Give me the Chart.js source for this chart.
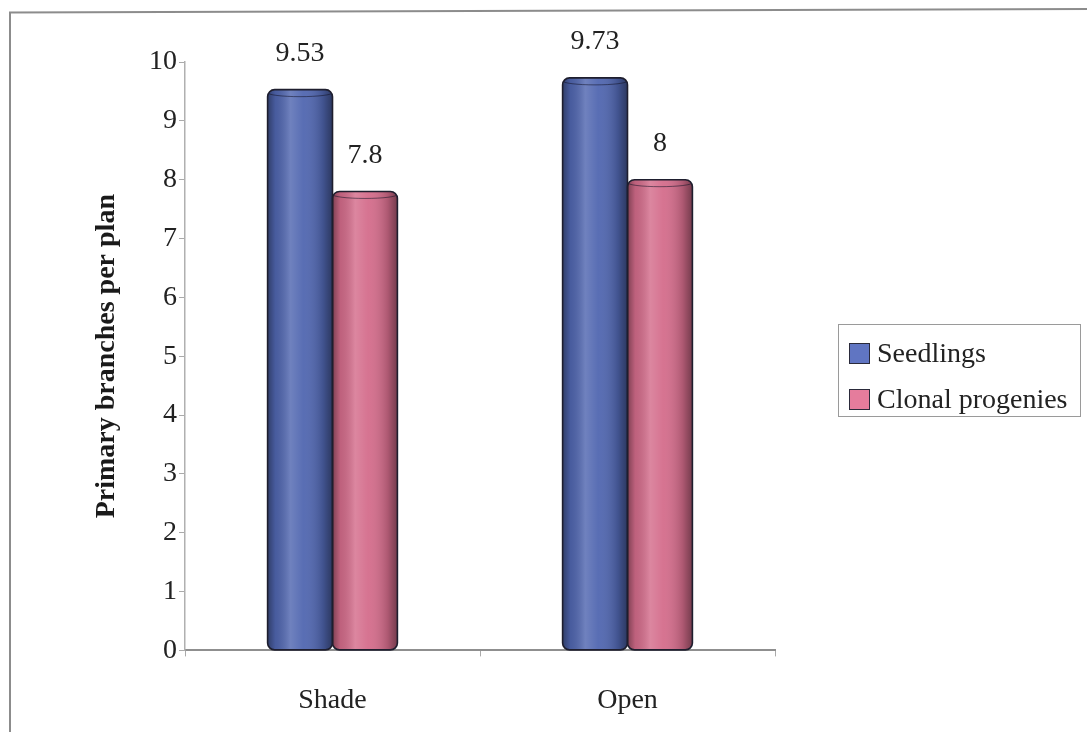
<!DOCTYPE html>
<html>
<head>
<meta charset="utf-8">
<script src="https://cdn.jsdelivr.net/npm/chart.js@4/dist/chart.umd.min.js"></script>
<style>
  html, body { margin: 0; padding: 0; background: #ffffff; }
  #wrap { position: relative; width: 1087px; height: 732px; }
  #legend {
    position: absolute; left: 838px; top: 324px; width: 243px; height: 93px;
    border: 1px solid #9a9a9a; box-sizing: border-box;
    font-family: "Liberation Serif", "Times New Roman", serif; font-size: 28px; color: #222;
  }
  .row { position: absolute; left: 10px; height: 32px; line-height: 32px; white-space: nowrap; }
  .sw { display: inline-block; width: 19px; height: 19px; border: 1.5px solid #2a2a3a; vertical-align: middle; margin-right: 7px; position: relative; top: -2px; }
</style>
</head>
<body>
<div id="wrap">
  <canvas id="c" width="1087" height="732"></canvas>
  <div id="legend"></div>
</div>
<script>
// ---- data ----
const categories = ['Shade', 'Open'];
const seedlings = [9.53, 9.73];
const clonalProgenies = [7.8, 8];
const seriesNames = ['Seedlings', 'Clonal progenies'];
const yAxisTitle = 'Primary branches per plan';
const yMin = 0, yMax = 10, yStep = 1;

const FONT = '"Liberation Serif", "Times New Roman", serif';
const barColors = ['#5066b0', '#d46c8b'];
const swatchColors = ['#6075c2', '#e57c9c'];

// frame of the scanned figure
const framePlugin = {
  id: 'frame',
  beforeDraw(chart) {
    const ctx = chart.ctx;
    ctx.save();
    ctx.fillStyle = '#ffffff';
    ctx.fillRect(0, 0, chart.width, chart.height);
    ctx.strokeStyle = '#8c8c8c';
    ctx.lineWidth = 2;
    ctx.beginPath();
    ctx.moveTo(10, 732);
    ctx.lineTo(10, 12.5);
    ctx.lineTo(1087, 9);
    ctx.stroke();
    ctx.restore();
  }
};

// cylinder-like shading over each bar + value labels
const shadePlugin = {
  id: 'shade',
  afterDatasetsDraw(chart) {
    const ctx = chart.ctx;
    chart.data.datasets.forEach((ds, di) => {
      const meta = chart.getDatasetMeta(di);
      meta.data.forEach((el, i) => {
        const {x, y, base, width} = el.getProps(['x', 'y', 'base', 'width'], true);
        const l = x - width / 2, r = x + width / 2;
        ctx.save();
        ctx.beginPath();
        if (ctx.roundRect) ctx.roundRect(l, y, width, base - y, 7); else ctx.rect(l, y, width, base - y);
        ctx.clip();
        const g = ctx.createLinearGradient(l, 0, r, 0);
        g.addColorStop(0, 'rgba(0,0,0,0.40)');
        g.addColorStop(0.12, 'rgba(0,0,0,0.10)');
        g.addColorStop(0.35, 'rgba(255,255,255,0.18)');
        g.addColorStop(0.55, 'rgba(255,255,255,0.05)');
        g.addColorStop(0.85, 'rgba(0,0,0,0.18)');
        g.addColorStop(1, 'rgba(0,0,0,0.45)');
        ctx.fillStyle = g;
        ctx.fillRect(l, y, width, base - y);
        ctx.strokeStyle = 'rgba(20,20,40,0.55)';
        ctx.lineWidth = 1;
        ctx.beginPath();
        ctx.ellipse(x, y + 3, width / 2, 4, 0, 0, Math.PI);
        ctx.stroke();
        ctx.restore();
        ctx.save();
        ctx.strokeStyle = '#1e1e2e';
        ctx.lineWidth = 1.6;
        ctx.beginPath();
        if (ctx.roundRect) ctx.roundRect(l, y, width, base - y, 7); else ctx.rect(l, y, width, base - y);
        ctx.stroke();
        ctx.restore();
        ctx.save();
        ctx.fillStyle = '#222222';
        ctx.font = '28px ' + FONT;
        ctx.textAlign = 'center';
        ctx.textBaseline = 'middle';
        ctx.fillText(String(ds.data[i]), x, y - 36);
        ctx.restore();
      });
    });
  }
};

const chart = new Chart(document.getElementById('c'), {
  type: 'bar',
  data: {
    labels: categories,
    datasets: [
      {
        label: seriesNames[0],
        data: seedlings,
        backgroundColor: barColors[0],
        borderWidth: 0,
        borderRadius: 7,
        borderSkipped: false,
        categoryPercentage: 0.44,
        barPercentage: 1.0
      },
      {
        label: seriesNames[1],
        data: clonalProgenies,
        backgroundColor: barColors[1],
        borderWidth: 0,
        borderRadius: 7,
        borderSkipped: false,
        categoryPercentage: 0.44,
        barPercentage: 1.0
      }
    ]
  },
  options: {
    responsive: false,
    animation: false,
    devicePixelRatio: 1,
    layout: { padding: { top: 62, left: 90, right: 312, bottom: -12 } },
    plugins: {
      legend: { display: false },
      tooltip: { enabled: false }
    },
    scales: {
      x: {
        grid: {
          display: true,
          offset: true,
          drawOnChartArea: false,
          drawTicks: true,
          tickLength: 6,
          color: '#aaaaaa'
        },
        border: { display: true, color: '#8f8f8f', width: 2 },
        ticks: {
          font: { family: FONT, size: 28 },
          color: '#222222',
          padding: 27
        }
      },
      y: {
        min: yMin,
        max: yMax,
        ticks: {
          stepSize: yStep,
          font: { family: FONT, size: 28 },
          color: '#222222',
          padding: 2
        },
        grid: {
          display: true,
          drawOnChartArea: false,
          drawTicks: true,
          tickLength: 6,
          color: '#aaaaaa'
        },
        border: { display: true, color: '#b0b0b0', width: 1.5 },
        title: {
          display: true,
          text: yAxisTitle,
          font: { family: FONT, size: 28, weight: 'bold' },
          color: '#1a1a1a',
          padding: { top: 0, bottom: 0 }
        },
        afterFit(scale) { scale.width = 95; }
      }
    }
  },
  plugins: [framePlugin, shadePlugin]
});

// HTML legend built from the dataset names
const legendEl = document.getElementById('legend');
seriesNames.forEach((name, i) => {
  const row = document.createElement('div');
  row.className = 'row';
  row.style.top = (i === 0 ? 12 : 58) + 'px';
  const sw = document.createElement('span');
  sw.className = 'sw';
  sw.style.background = swatchColors[i];
  row.appendChild(sw);
  row.appendChild(document.createTextNode(name));
  legendEl.appendChild(row);
});
</script>
</body>
</html>
